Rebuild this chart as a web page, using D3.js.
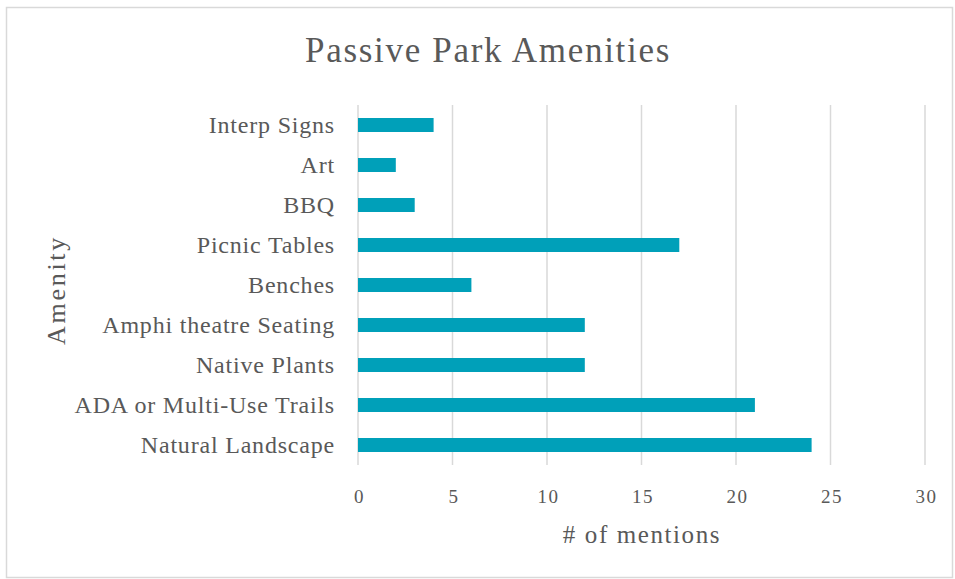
<!DOCTYPE html>
<html><head><meta charset="utf-8">
<script src="https://cdn.jsdelivr.net/npm/d3@7"></script>
<style>body{margin:0;background:#fff}svg{display:block}</style>
</head><body>
<script>
const categories = ["Interp Signs","Art","BBQ","Picnic Tables","Benches","Amphi theatre Seating","Native Plants","ADA or Multi-Use Trails","Natural Landscape"];
const mentions = [4,2,3,17,6,12,12,21,24];
const xTicks = [0,5,10,15,20,25,30];

const W=955,H=579;
const svg=d3.select("body").append("svg").attr("width",W).attr("height",H);
const font="'Liberation Serif', 'DejaVu Serif', serif";
const txt="#595959";
svg.append("rect").attr("x",6.5).attr("y",7.5).attr("width",946).attr("height",570).attr("fill","#fff").attr("stroke","#d9d9d9").attr("stroke-width",1.5);

const x=d3.scaleLinear().domain([0,30]).range([358,925]);
const y=d3.scaleBand().domain(categories).range([105,465]).paddingInner(0.65).paddingOuter(0.325);

svg.append("g").selectAll("line").data(xTicks).join("line")
 .attr("x1",d=>x(d)).attr("x2",d=>x(d)).attr("y1",105).attr("y2",465)
 .attr("stroke","#d9d9d9").attr("stroke-width",1.5);

svg.append("g").selectAll("rect").data(categories).join("rect")
 .attr("x",x(0)).attr("y",d=>y(d)).attr("height",y.bandwidth())
 .attr("width",(d,i)=>x(mentions[i])-x(0)).attr("fill","#00A0B9");

const xa=svg.append("g").attr("transform","translate(0,465)").call(d3.axisBottom(x).tickValues(xTicks).tickSize(0).tickPadding(0));
xa.select(".domain").remove();
xa.selectAll("text").attr("dy",null).attr("y",38).attr("dx",1).attr("font-family",font).attr("font-size",19).attr("letter-spacing",1.5).attr("fill",txt);

const ya=svg.append("g").attr("transform","translate(358,0)").call(d3.axisLeft(y).tickSize(0).tickPadding(23));
ya.select(".domain").remove();
ya.selectAll("text").attr("font-family",font).attr("font-size",24).attr("letter-spacing",0.8).attr("fill",txt);

svg.append("text").attr("x",488).attr("y",62).attr("text-anchor","middle").attr("font-family",font).attr("font-size",35).attr("letter-spacing",1.7).attr("fill",txt).text("Passive Park Amenities");
svg.append("text").attr("x",642).attr("y",543).attr("text-anchor","middle").attr("font-family",font).attr("font-size",25).attr("letter-spacing",1.6).attr("fill",txt).text("# of mentions");
svg.append("text").attr("transform","translate(65,290) rotate(-90)").attr("text-anchor","middle").attr("font-family",font).attr("font-size",26).attr("letter-spacing",2.7).attr("fill",txt).text("Amenity");
</script>
</body></html>
